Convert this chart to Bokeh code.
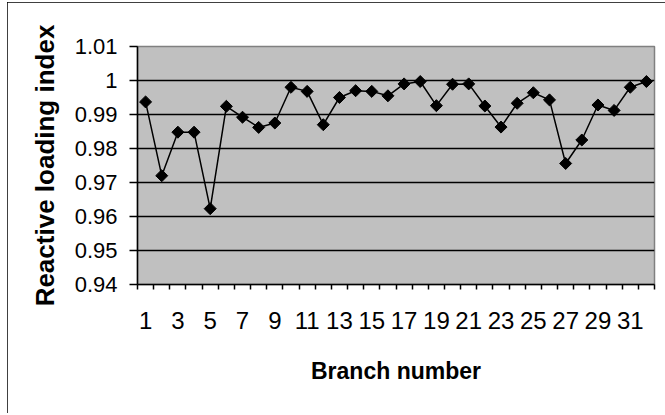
from bokeh.plotting import figure
from bokeh.models import FixedTicker, CustomJSTickFormatter, ColumnDataSource, Range1d
from bokeh.embed import file_html
from bokeh.resources import INLINE

# ---- data ----
branches = list(range(1, 33))
loading_index = [0.9937, 0.9720, 0.9848, 0.9848, 0.9623, 0.9924, 0.9892, 0.9862,
                 0.9875, 0.9980, 0.9968, 0.9870, 0.9950, 0.9970, 0.9968, 0.9955,
                 0.9990, 0.9997, 0.9926, 0.9989, 0.9990, 0.9925, 0.9863, 0.9933,
                 0.9964, 0.9943, 0.9756, 0.9825, 0.9928, 0.9912, 0.9980, 0.9997]
y_ticks = [0.94, 0.95, 0.96, 0.97, 0.98, 0.99, 1.00, 1.01]
x_label_ticks = [1, 3, 5, 7, 9, 11, 13, 15, 17, 19, 21, 23, 25, 27, 29, 31]
x_title = "Branch number"
y_title = "Reactive loading index"

FONT = "Liberation Sans"

src = ColumnDataSource(dict(x=branches, y=loading_index))

p = figure(width=658, height=411, output_backend="svg", toolbar_location=None,
           x_range=Range1d(0.5, len(branches) + 0.5),
           y_range=Range1d(y_ticks[0], y_ticks[-1]),
           min_border_left=130, min_border_right=11, min_border_top=44,
           min_border_bottom=129)

p.background_fill_color = "#C0C0C0"
p.border_fill_color = "white"
p.outline_line_color = "#808080"
p.outline_line_width = 1.5
p.styles = {"margin-left": "7px", "margin-top": "2px",
            "outline": "2px solid black", "outline-offset": "-2px"}

# grid
p.xgrid.grid_line_color = None
p.ygrid.grid_line_color = "black"
p.ygrid.grid_line_width = 1.5

# x axis: labels on odd branches, ticks at category boundaries
boundaries = [b - 0.5 for b in branches] + [branches[-1] + 0.5]
p.xaxis.ticker = FixedTicker(ticks=x_label_ticks, minor_ticks=boundaries)
p.xaxis.major_tick_line_color = None
p.xaxis.major_tick_out = 5
p.xaxis.major_tick_in = 0
p.xaxis.minor_tick_line_color = "black"
p.xaxis.minor_tick_line_width = 1.5
p.xaxis.minor_tick_out = 5
p.xaxis.minor_tick_in = 0
p.xaxis.axis_line_color = "black"
p.xaxis.axis_line_width = 1.5
p.xaxis.major_label_text_font = FONT
p.xaxis.major_label_text_font_size = "24px"
p.xaxis.major_label_text_color = "black"
p.xaxis.major_label_standoff = 22
p.xaxis.axis_label = x_title
p.xaxis.axis_label_text_font = FONT
p.xaxis.axis_label_text_font_style = "bold"
p.xaxis.axis_label_text_font_size = "23px"
p.xaxis.axis_label_text_color = "black"
p.xaxis.axis_label_standoff = 26

# y axis
p.yaxis.ticker = FixedTicker(ticks=y_ticks, minor_ticks=[])
p.yaxis.formatter = CustomJSTickFormatter(code="return (Math.round(tick*100)/100).toString();")
p.yaxis.major_tick_line_color = "black"
p.yaxis.major_tick_line_width = 1.5
p.yaxis.major_tick_out = 8
p.yaxis.major_tick_in = 0
p.yaxis.axis_line_color = "black"
p.yaxis.axis_line_width = 1.5
p.yaxis.major_label_text_font = FONT
p.yaxis.major_label_text_font_size = "22px"
p.yaxis.major_label_text_color = "black"
p.yaxis.major_label_standoff = 12
p.yaxis.axis_label = y_title
p.yaxis.axis_label_text_font = FONT
p.yaxis.axis_label_text_font_style = "bold"
p.yaxis.axis_label_text_font_size = "26px"
p.yaxis.axis_label_text_color = "black"
p.yaxis.axis_label_standoff = 12

# series
p.line("x", "y", source=src, line_color="black", line_width=1.5)
p.scatter("x", "y", source=src, marker="square", size=8.5, angle=0.785398,
          fill_color="black", line_color="black")

open("out.html", "w").write(file_html(p, INLINE))
